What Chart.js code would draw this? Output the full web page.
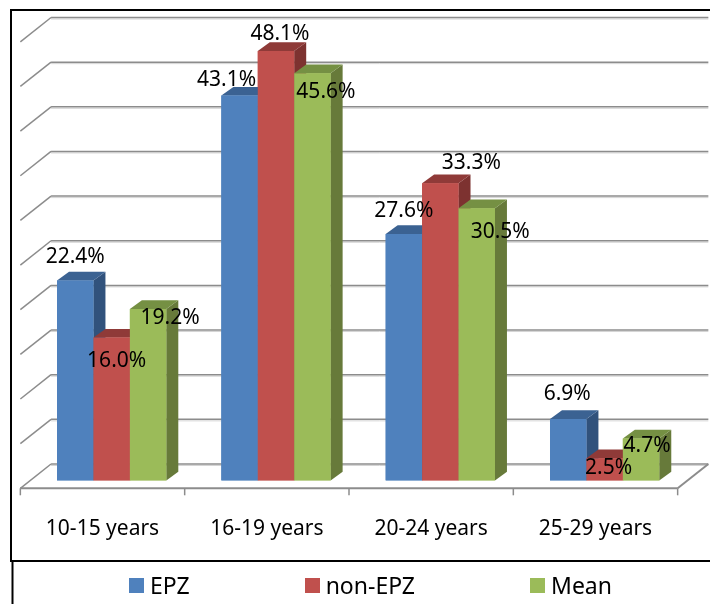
<!DOCTYPE html>
<html>
<head>
<meta charset="utf-8">
<title>Age groups</title>
<script src="https://cdn.jsdelivr.net/npm/chart.js@4"></script>
<style>
  body { margin: 0; background: #fff; }
  #wrap { position: relative; width: 710px; height: 604px; overflow: hidden; }
  #legend { position: absolute; left: 129px; top: 570px; display: flex; font: 23px/30px "Noto Sans", sans-serif; color: #000; }
  #legend div { display: flex; align-items: center; margin-right: 115px; white-space: nowrap; }
  #legend i { display: block; width: 15px; height: 15px; margin-right: 6px; }
</style>
</head>
<body>
<div id="wrap">
  <canvas id="myChart" width="710" height="604"></canvas>
  <div id="legend"></div>
</div>
<script>
const categories = ['10-15 years', '16-19 years', '20-24 years', '25-29 years'];
const epz = [22.4, 43.1, 27.6, 6.9];
const nonEpz = [16.0, 48.1, 33.3, 2.5];
const mean = [19.2, 45.6, 30.5, 4.7];

const FONT = '"Noto Sans", sans-serif';

// depth of the bars and of the box behind them, in px
const barDepth = { x: 12, y: 8.7 };
const wall = { dx: 21.6, dy: 16.5 };
const floorFront = { dx: -9.15, dy: 7.8 };

const shades = [
  { top: '#3b6292', side: '#31527c' },
  { top: '#8f3a38', side: '#7d3230' },
  { top: '#759043', side: '#677a3a' }
];

// label shift from the top centre of each bar
const labelShift = [
  [[0, -23.5], [-13, -15.5], [0, -23.5], [-1, -24.5]],
  [[5, 23.5], [4, -16.5], [31, -20.5], [4, 9.5]],
  [[22, 8.5], [13.5, 18.5], [23.5, 23.5], [6, 7.5]]
];

function line(ctx, x1, y1, x2, y2) {
  ctx.beginPath();
  ctx.moveTo(x1, y1);
  ctx.lineTo(x2, y2);
  ctx.stroke();
}

function poly(ctx, pts, color) {
  ctx.fillStyle = color;
  ctx.beginPath();
  pts.forEach((p, i) => i ? ctx.lineTo(p[0], p[1]) : ctx.moveTo(p[0], p[1]));
  ctx.closePath();
  ctx.fill();
}

const frame = {
  id: 'frame',
  beforeDraw(chart) {
    const ctx = chart.ctx;
    ctx.save();
    ctx.strokeStyle = '#000';
    ctx.lineWidth = 2;
    line(ctx, 10, 10, 710, 10);
    line(ctx, 11, 10, 11, 561);
    line(ctx, 10, 561, 710, 561);
    line(ctx, 12.5, 561, 12.5, 604);
    ctx.restore();
  }
};

// back wall, side wall and floor of the box
const box = {
  id: 'box',
  beforeDatasetsDraw(chart) {
    const { ctx, scales: { x, y } } = chart;
    const left = x.left + floorFront.dx;
    const right = x.right + floorFront.dx;
    const front = y.getPixelForValue(0) + floorFront.dy;
    const depthX = 30.7, depthY = 24.3;
    ctx.save();
    y.ticks.forEach(t => {
      const py = y.getPixelForValue(t.value) - wall.dy;
      ctx.strokeStyle = '#d4d4d4';
      ctx.lineWidth = 1;
      line(ctx, left + depthX, py + 1.5, right + depthX, py + 1.5);
      ctx.strokeStyle = '#8c8c8c';
      ctx.lineWidth = 1.5;
      line(ctx, left + depthX, py, right + depthX, py);
      line(ctx, left, py + depthY, left + depthX, py);
    });
    ctx.strokeStyle = '#8c8c8c';
    ctx.lineWidth = 2;
    line(ctx, left, front, right, front);
    line(ctx, right, front, right + depthX, front - depthY);
    ctx.lineWidth = 1.5;
    categories.concat('').forEach((c, i) => {
      const tx = left + i * (right - left) / categories.length;
      line(ctx, tx, front, tx, front + 7);
    });
    ctx.restore();
  }
};

// side and top faces, then the front again so neighbours overlap left to right
const bars3d = {
  id: 'bars3d',
  afterDatasetsDraw(chart) {
    const ctx = chart.ctx;
    const dx = barDepth.x, dy = barDepth.y;
    chart.data.datasets.forEach((ds, di) => {
      chart.getDatasetMeta(di).data.forEach(bar => {
        const l = bar.x - bar.width / 2, r = bar.x + bar.width / 2;
        const t = bar.y, b = bar.base;
        poly(ctx, [[r, t], [r + dx, t - dy], [r + dx, b - dy], [r, b]], shades[di].side);
        poly(ctx, [[l, t], [l + dx, t - dy], [r + dx, t - dy], [r, t]], shades[di].top);
        bar.draw(ctx);
      });
    });
    ctx.save();
    ctx.font = '21px ' + FONT;
    ctx.fillStyle = '#000';
    ctx.textAlign = 'center';
    ctx.textBaseline = 'middle';
    chart.data.datasets.forEach((ds, di) => {
      chart.getDatasetMeta(di).data.forEach((bar, i) => {
        const s = labelShift[di][i];
        ctx.fillText(ds.data[i].toFixed(1) + '%', bar.x + s[0], bar.y + s[1]);
      });
    });
    ctx.restore();
  }
};

const chart = new Chart(document.getElementById('myChart'), {
  type: 'bar',
  data: {
    labels: categories,
    datasets: [
      { label: 'EPZ', data: epz, backgroundColor: '#4f81bd' },
      { label: 'non-EPZ', data: nonEpz, backgroundColor: '#c0504d' },
      { label: 'Mean', data: mean, backgroundColor: '#9bbb59' }
    ]
  },
  options: {
    responsive: false,
    animation: false,
    layout: { padding: { left: 29.5, right: 23.2, top: 34, bottom: 23.5 } },
    categoryPercentage: 0.665,
    barPercentage: 1,
    plugins: { legend: { display: false }, tooltip: { enabled: false } },
    scales: {
      x: {
        grid: { display: false },
        border: { display: false },
        afterFit: s => { s.height = 100; },
        ticks: { color: '#000', padding: 28, maxRotation: 0, labelOffset: floorFront.dx, font: { family: FONT, size: 21 } }
      },
      y: {
        min: 0,
        max: 50,
        grid: { display: false },
        border: { display: false },
        afterFit: s => { s.width = 0; },
        ticks: { display: false, stepSize: 5 }
      }
    }
  },
  plugins: [frame, box, bars3d]
});

// legend row under the frame
const legendEl = document.getElementById('legend');
Chart.defaults.plugins.legend.labels.generateLabels(chart).forEach(item => {
  const row = document.createElement('div');
  const swatch = document.createElement('i');
  swatch.style.background = item.fillStyle;
  row.appendChild(swatch);
  row.appendChild(document.createTextNode(item.text));
  legendEl.appendChild(row);
});
</script>
</body>
</html>
